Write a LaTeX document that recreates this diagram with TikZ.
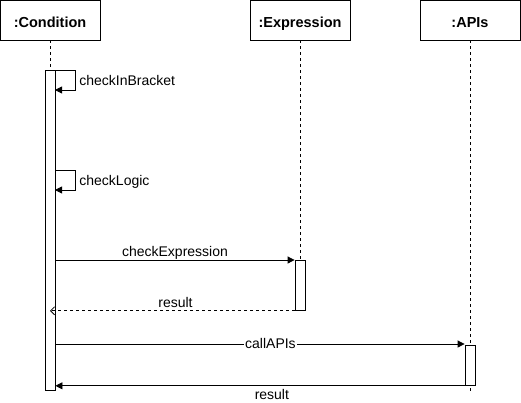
\documentclass[tikz,border=0pt]{standalone}
\usepackage{fontspec}
\setmainfont{Liberation Sans}
\usetikzlibrary{arrows.meta}

\begin{document}
\begin{tikzpicture}[x=1pt, y=-1pt, line width=0.8pt,
  head/.style={draw, fill=white, minimum width=100, minimum height=40,
    inner sep=0pt, text height=15.4pt, text depth=0pt,
    font=\fontsize{14.5}{17}\selectfont\bfseries},
  actbar/.style={draw, fill=white, minimum width=10, inner sep=0pt, anchor=north},
  life/.style={dashed, dash pattern=on 3pt off 3pt},
  msg/.style={-{Triangle[length=7pt, width=7pt]}},
  reply/.style={dashed, dash pattern=on 3pt off 3pt, -{Straight Barb[length=4pt, width=8pt]}},
  lbl/.style={font=\fontsize{14}{16}\selectfont, inner sep=0pt, anchor=base}]

  \useasboundingbox (0,0) rectangle (521,402);

  % Participants
  \node[head] (cond) at (50,20) {:Condition};
  \node[head] (expr) at (300,20) {:Expression};
  \node[head] (apis) at (470,20) {:APIs};

  % Lifelines
  \coordinate (apisend) at (470,392);
  \draw[life] (cond.south) -- (50,70);
  \draw[life] (expr.south) -- (300,310);
  \draw[life] (apis.south) -- (apisend);

  % Activation bars
  \node[actbar, minimum height=320] (condact) at (50,70) {};
  \node[actbar, minimum height=50]  (expract) at (300,260) {};
  \node[actbar, minimum height=40]  (apisact) at (470,345) {};

  % Self calls on Condition
  \coordinate (sc1) at (55,70);
  \coordinate (sc2) at (55,170);
  \draw[msg] (sc1) -- ++(20,0) -- ++(0,20) -- ++(-20,0);
  \node[lbl, anchor=base west] at (79,85) {checkInBracket};
  \draw[msg] (sc2) -- ++(20,0) -- ++(0,20) -- ++(-20,0);
  \node[lbl, anchor=base west] at (79,185) {checkLogic};

  % Condition -> Expression
  \draw[msg] (condact.east |- expract.north) -- (expract.north west)
    node[lbl, midway, yshift=3.7pt] {checkExpression};
  \draw[reply] (expract.south west) -- (condact.center |- expract.south)
    node[lbl, pos=0.487, yshift=3.6pt] {result};

  % Condition -> APIs
  \coordinate (callpt) at (55,344);
  \draw[msg] (callpt) -- (callpt -| apisact.west)
    node[lbl, pos=0.526, yshift=-4.3pt, fill=white, inner xsep=1pt] {callAPIs};
  \draw[msg] (apisact.south west) -- (condact.east |- apisact.south)
    node[lbl, pos=0.471, yshift=-14pt] {result};

\end{tikzpicture}
\end{document}
